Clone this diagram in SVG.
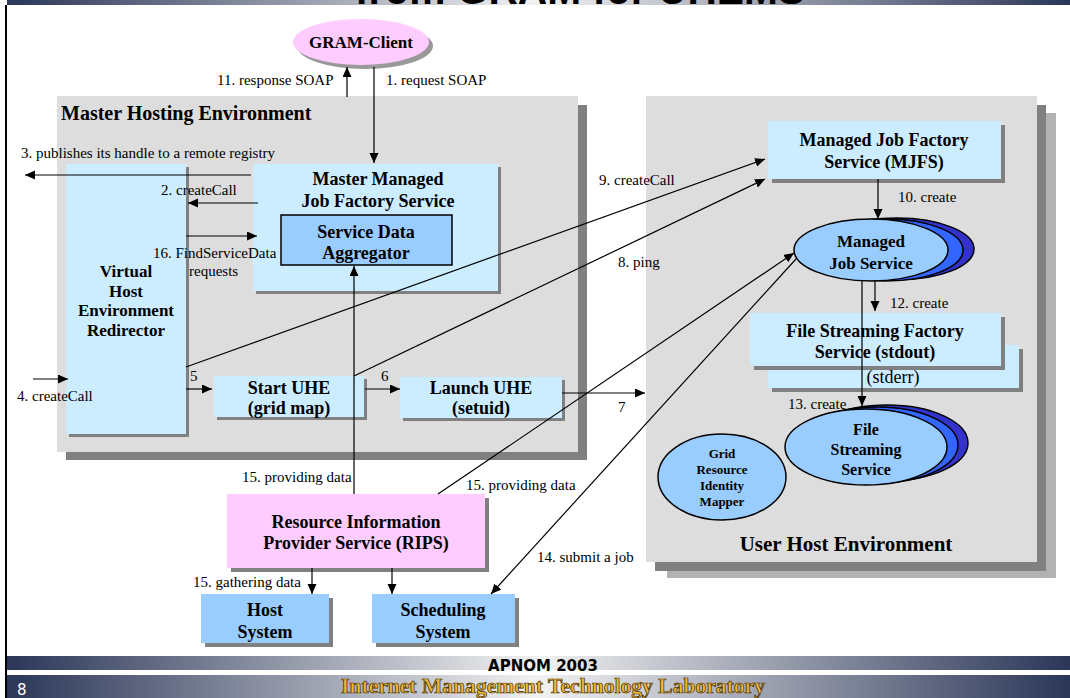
<svg xmlns="http://www.w3.org/2000/svg" width="1070" height="698" viewBox="0 0 1070 698">
<defs>
<linearGradient id="bar" x1="0" x2="1" y1="0" y2="0">
<stop offset="0" stop-color="#2b3658"/>
<stop offset="0.5" stop-color="#f2f2f2"/>
<stop offset="1" stop-color="#2b3658"/>
</linearGradient>
<marker id="ah" markerWidth="11" markerHeight="10" refX="10" refY="4.5" orient="auto" markerUnits="userSpaceOnUse">
<path d="M0,0 L10,4.5 L0,9 z" fill="#000"/>
</marker>
<style>
.lbl{font-family:"Liberation Serif",serif;font-size:15px;fill:#000}
.nb{font-family:"Liberation Serif",serif;font-weight:bold;font-size:18px;text-anchor:middle;fill:#000}
.lb{fill:#ccecff}
.mb{fill:#99ccff}
.sh{fill:#808080}
.pk{fill:#ffccff}
.c{stroke:#000;stroke-width:1.2;fill:none;marker-end:url(#ah)}
.el{stroke:#000;stroke-width:1.5}
</style>
</defs>
<rect width="1070" height="698" fill="#fff"/>
<!-- slide frame -->
<rect x="7" y="0" width="1063" height="5" fill="url(#bar)"/>
<text x="580" y="4" font-family="'Liberation Sans',sans-serif" font-weight="bold" font-size="44" text-anchor="middle" textLength="450" lengthAdjust="spacingAndGlyphs">from GRAM for UHEMS</text>
<rect x="5" y="5" width="2" height="693" fill="#000"/>

<!-- Master Hosting Environment -->
<g id="master-env">
<rect x="66" y="105" width="521" height="355" class="sh"/>
<rect x="57" y="96" width="521" height="356" fill="#dddddd"/>
<text x="61" y="120" font-family="'Liberation Serif',serif" font-weight="bold" font-size="20">Master Hosting Environment</text>
</g>

<!-- User Host Environment -->
<g id="user-env">
<rect x="667" y="113" width="389" height="465" fill="#b2b2b2"/>
<rect x="655" y="105" width="391" height="466" class="sh"/>
<rect x="646" y="96" width="391" height="466" fill="#dddddd"/>
<text x="846" y="551" class="nb" style="font-size:21px">User Host Environment</text>
</g>

<g id="gram-client">
<ellipse cx="365" cy="46" rx="68" ry="23" fill="#999"/>
<ellipse cx="361" cy="42" rx="68" ry="23" class="pk"/>
<text x="361" y="48" class="nb" style="font-size:17px">GRAM-Client</text>
</g>

<g id="vher">
<rect x="69" y="167" width="120" height="270" class="sh"/>
<rect x="66" y="164" width="120" height="270" class="lb"/>
<text class="nb" style="font-size:17px"><tspan x="126" y="277">Virtual</tspan><tspan x="126" y="297">Host</tspan><tspan x="126" y="316">Environment</tspan><tspan x="126" y="336">Redirector</tspan></text>
</g>

<g id="mmjfs">
<rect x="256" y="167" width="245" height="127" class="sh"/>
<rect x="253" y="164" width="245" height="127" class="lb"/>
<text class="nb"><tspan x="378" y="185">Master Managed</tspan><tspan x="378" y="207">Job Factory Service</tspan></text>
</g>

<g id="sda">
<rect x="281" y="215" width="171" height="50" class="mb" stroke="#000" stroke-width="1.5"/>
<text class="nb"><tspan x="366" y="238">Service Data</tspan><tspan x="366" y="259">Aggregator</tspan></text>
</g>

<g id="start-uhe">
<rect x="217" y="379" width="150" height="41" class="sh"/>
<rect x="214" y="376" width="150" height="41" class="lb"/>
<text class="nb"><tspan x="289" y="394">Start UHE</tspan><tspan x="289" y="414">(grid map)</tspan></text>
</g>

<g id="launch-uhe">
<rect x="403" y="380" width="162" height="41" class="sh"/>
<rect x="400" y="377" width="162" height="41" class="lb"/>
<text class="nb"><tspan x="481" y="394">Launch UHE</tspan><tspan x="481" y="414">(setuid)</tspan></text>
</g>

<g id="mjfs">
<rect x="772" y="125" width="233" height="58" class="sh"/>
<rect x="768" y="121" width="233" height="58" class="lb"/>
<text class="nb"><tspan x="884" y="146">Managed Job Factory</tspan><tspan x="884" y="168">Service (MJFS)</tspan></text>
</g>

<g id="mjs">
<ellipse cx="897" cy="249" rx="77" ry="31" fill="#3333cc" class="el"/>
<ellipse cx="886" cy="250" rx="77" ry="31" fill="#3366ff" class="el"/>
<ellipse cx="871" cy="250" rx="77" ry="31" class="mb el"/>
<text class="nb" style="font-size:17px"><tspan x="871" y="247">Managed</tspan><tspan x="871" y="269">Job Service</tspan></text>
</g>

<g id="fsfs-stderr">
<rect x="772" y="349" width="251" height="43" class="sh"/>
<rect x="768" y="345" width="251" height="43" class="lb"/>
<text x="893" y="383" font-family="'Liberation Serif',serif" font-size="18" text-anchor="middle">(stderr)</text>
</g>

<g id="fsfs">
<rect x="754" y="317" width="251" height="53" class="sh"/>
<rect x="750" y="313" width="251" height="53" class="lb"/>
<text class="nb"><tspan x="875" y="337">File Streaming Factory</tspan><tspan x="875" y="358">Service (stdout)</tspan></text>
</g>

<g id="fss">
<ellipse cx="887" cy="443" rx="81" ry="38" fill="#3333cc" class="el"/>
<ellipse cx="877" cy="445" rx="81" ry="38" fill="#3366ff" class="el"/>
<ellipse cx="866" cy="447" rx="81" ry="38" class="mb el"/>
<text class="nb" style="font-size:16px"><tspan x="866" y="435">File</tspan><tspan x="866" y="455">Streaming</tspan><tspan x="866" y="475">Service</tspan></text>
</g>

<g id="grim">
<ellipse cx="722" cy="477" rx="64" ry="43" class="mb el"/>
<text class="nb" style="font-size:13px"><tspan x="722" y="458">Grid</tspan><tspan x="722" y="474">Resource</tspan><tspan x="722" y="490">Identity</tspan><tspan x="722" y="506">Mapper</tspan></text>
</g>

<g id="rips">
<rect x="231" y="498" width="258" height="74" class="sh"/>
<rect x="227" y="494" width="258" height="74" class="pk"/>
<text class="nb"><tspan x="356" y="528">Resource Information</tspan><tspan x="356" y="549">Provider Service (RIPS)</tspan></text>
</g>

<g id="host-system">
<rect x="205" y="598" width="128" height="49" class="sh"/>
<rect x="201" y="594" width="128" height="49" class="mb"/>
<text class="nb"><tspan x="265" y="616">Host</tspan><tspan x="265" y="638">System</tspan></text>
</g>

<g id="scheduling-system">
<rect x="376" y="598" width="143" height="49" class="sh"/>
<rect x="372" y="594" width="143" height="49" class="mb"/>
<text class="nb"><tspan x="443" y="616">Scheduling</tspan><tspan x="443" y="638">System</tspan></text>
</g>

<g id="connectors">
<path class="c" d="M374,67 V163"/>
<path class="c" d="M347,97 V67"/>
<path class="c" d="M251,175 H25"/>
<path class="c" d="M258,203 H188"/>
<path class="c" d="M186,236 H257"/>
<path class="c" d="M33,379 H68"/>
<path class="c" d="M186,389 H212"/>
<path class="c" d="M365,389 H400"/>
<path class="c" d="M562,393 H645"/>
<path class="c" d="M186,367 L765,159"/>
<path class="c" d="M354,376 L765,179"/>
<path class="c" d="M354,494 V266"/>
<path class="c" d="M438,494 L794,253"/>
<path class="c" d="M796,259 L491,594"/>
<path class="c" d="M878,179 V219"/>
<path class="c" d="M875,281 V311"/>
<path class="c" d="M862,281 V406"/>
<path class="c" d="M312,568 V594"/>
<path class="c" d="M392,568 V594"/>
</g>

<g id="labels" class="lbl">
<text x="217" y="85">11. response SOAP</text>
<text x="386" y="85">1. request SOAP</text>
<text x="21" y="158">3. publishes its handle to a remote registry</text>
<text x="161" y="195">2. createCall</text>
<text x="153" y="258">16. FindServiceData</text>
<text x="189" y="276">requests</text>
<text x="17" y="401">4. createCall</text>
<text x="190" y="381">5</text>
<text x="381" y="381">6</text>
<text x="618" y="412">7</text>
<text x="599" y="185">9. createCall</text>
<text x="618" y="267">8. ping</text>
<text x="898" y="202">10. create</text>
<text x="890" y="308">12. create</text>
<text x="788" y="409">13. create</text>
<text x="242" y="482">15. providing data</text>
<text x="466" y="490">15. providing data</text>
<text x="537" y="562">14. submit a job</text>
<text x="193" y="587">15. gathering data</text>
</g>

<!-- footer -->
<g id="footer">
<rect x="7" y="656" width="1063" height="14" fill="url(#bar)"/>
<rect x="7" y="675" width="1063" height="23" fill="url(#bar)"/>
<text x="543" y="671" font-family="'DejaVu Sans',sans-serif" font-weight="bold" font-size="15" text-anchor="middle">APNOM 2003</text>
<text x="553" y="693" font-family="'Liberation Serif',serif" font-weight="bold" font-size="20" text-anchor="middle" textLength="424" lengthAdjust="spacingAndGlyphs" fill="#f0b838" stroke="#4a3000" stroke-width="0.7">Internet Management Technology Laboratory</text>
<text x="17" y="695" font-family="'DejaVu Sans',sans-serif" font-size="15" fill="#fff">8</text>
</g>
</svg>
